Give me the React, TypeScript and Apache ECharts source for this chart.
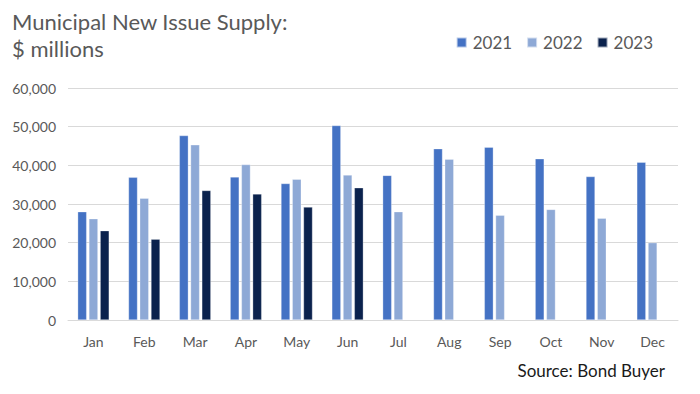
import React, { useEffect, useRef } from "react";
import * as echarts from "echarts";

const months = ["Jan", "Feb", "Mar", "Apr", "May", "Jun", "Jul", "Aug", "Sep", "Oct", "Nov", "Dec"];
const s2021 = [28000, 36900, 47700, 37000, 35300, 50300, 37400, 44300, 44700, 41700, 37100, 40800];
const s2022 = [26200, 31500, 45300, 40200, 36400, 37500, 28000, 41600, 27100, 28600, 26300, 20000];
const s2023 = [23100, 20900, 33500, 32600, 29200, 34200, null, null, null, null, null, null];
const yTicks = { min: 0, max: 60000, interval: 10000 };

const FONT = "Lato, 'Open Sans', sans-serif";

export default function App() {
  const ref = useRef<HTMLDivElement>(null);
  useEffect(() => {
    if (!ref.current) return;
    const chart = echarts.init(ref.current, null, { renderer: "svg" });
    const bar = (name: string, data: (number | null)[], color: string) => ({
      name,
      type: "bar",
      data,
      barWidth: 9,
      barGap: "25%",
      itemStyle: { color, borderColor: "rgba(255,255,255,0.6)", borderWidth: 0.5 },
    });
    chart.setOption({
      animation: false,
      backgroundColor: "#ffffff",
      textStyle: { fontFamily: FONT },
      title: {
        text: "Municipal New Issue Supply:\n$ millions",
        left: 7,
        top: 3,
        textStyle: { fontFamily: FONT, fontSize: 22, fontWeight: "normal", color: "#595959", lineHeight: 27 },
      },
      legend: {
        right: 42,
        top: 29,
        itemWidth: 10,
        itemHeight: 10,
        itemGap: 14,
        icon: "rect",
        textStyle: { fontFamily: FONT, fontSize: 17, color: "#595959", padding: [0, 0, 0, 1] },
        data: ["2021", "2022", "2023"],
      },
      grid: { left: 68, right: 22, top: 88, bottom: 74, containLabel: false },
      xAxis: {
        type: "category",
        data: months,
        axisLine: { lineStyle: { color: "#D9D9D9", width: 1 } },
        axisTick: { show: false },
        axisLabel: { fontFamily: FONT, fontSize: 14, color: "#595959", margin: 14 },
      },
      yAxis: {
        type: "value",
        min: yTicks.min,
        max: yTicks.max,
        interval: yTicks.interval,
        axisLine: { show: false },
        axisTick: { show: false },
        splitLine: { lineStyle: { color: "#D9D9D9", width: 1 } },
        axisLabel: {
          fontFamily: FONT,
          fontSize: 14,
          color: "#595959",
          margin: 12,
          formatter: (v: number) => v.toLocaleString("en-US"),
        },
      },
      graphic: [
        {
          type: "text",
          right: 35,
          top: 362,
          style: { text: "Source: Bond Buyer", fontFamily: FONT, fontSize: 17, fill: "#1a1a1a" },
        },
      ],
      series: [
        bar("2021", s2021, "#4472C4"),
        bar("2022", s2022, "#8EA9D6"),
        bar("2023", s2023, "#0B224D"),
      ],
    });
    return () => chart.dispose();
  }, []);
  return <div ref={ref} style={{ width: 700, height: 394, position: "absolute", left: 0, top: 0 }} />;
}
